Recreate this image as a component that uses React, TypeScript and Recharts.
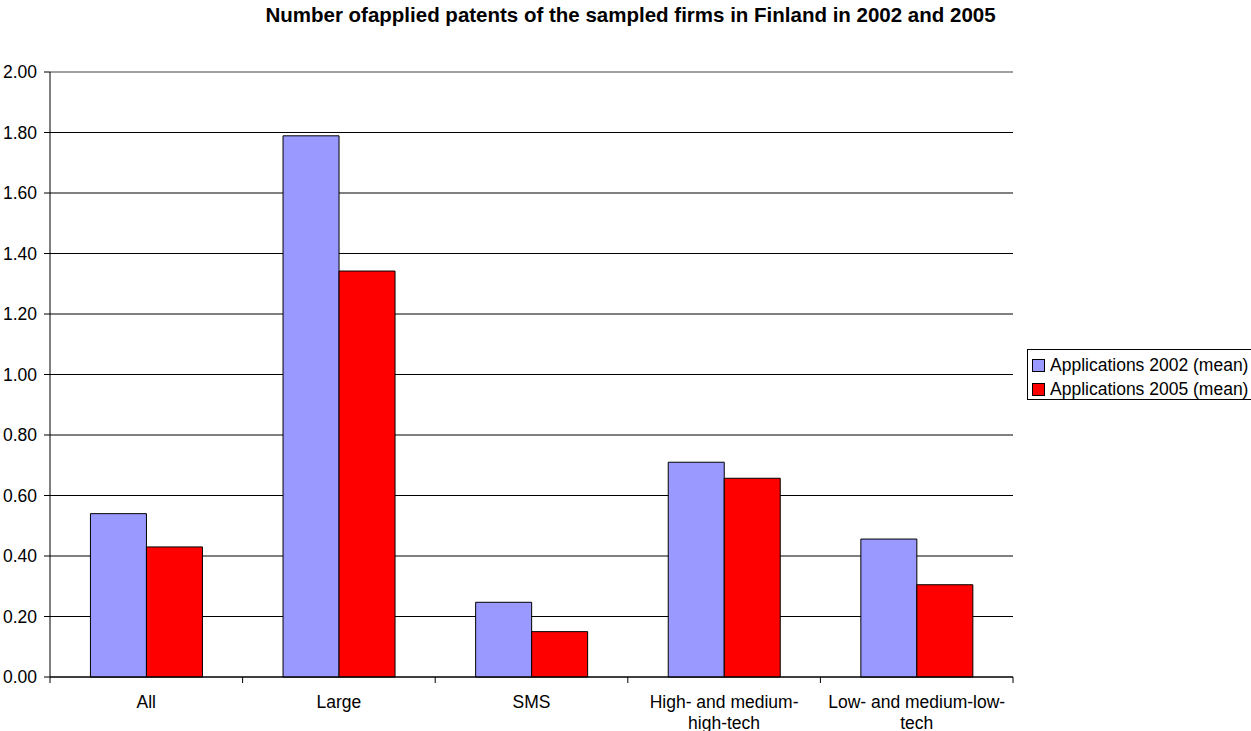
import React from 'react';
import { BarChart, Bar, XAxis, YAxis, CartesianGrid, ReferenceLine } from 'recharts';

const categories = ['All', 'Large', 'SMS', 'High- and medium-high-tech', 'Low- and medium-low-tech'];
const categoryLines = [['All'], ['Large'], ['SMS'], ['High- and medium-', 'high-tech'], ['Low- and medium-low-', 'tech']];
const applications2002 = [0.54, 1.789, 0.247, 0.71, 0.456];
const applications2005 = [0.43, 1.342, 0.15, 0.657, 0.305];
const yTicks = [0, 0.2, 0.4, 0.6, 0.8, 1.0, 1.2, 1.4, 1.6, 1.8, 2.0];
const gridValues = [0, 0.2, 0.4, 0.6, 0.8, 1.0, 1.2, 1.4, 1.6, 1.8];

const series = [
  { key: 'a2002', name: 'Applications 2002 (mean)', color: '#9999FF' },
  { key: 'a2005', name: 'Applications 2005 (mean)', color: '#FF0000' },
];

const FONT = '"Liberation Sans", Arial, sans-serif';

const chartData = categories.map((name, i) => ({
  name,
  a2002: applications2002[i],
  a2005: applications2005[i],
}));

const BAND = (1013 - 50) / categories.length;

const CategoryTick = (props: any) => {
  const { x, y, index } = props;
  const lines = categoryLines[index] || [];
  return (
    <g>
      {index === 0 && <line x1={x - BAND / 2} y1={y} x2={x - BAND / 2} y2={y + 6} stroke="#000" />}
      <line x1={x + BAND / 2} y1={y} x2={x + BAND / 2} y2={y + 6} stroke="#000" />
      {lines.map((line, i) => (
        <text
          key={i}
          x={x}
          y={y + 25 + i * 21}
          textAnchor="middle"
          dominantBaseline="central"
          fontSize={17.5}
          fontFamily={FONT}
          fill="#000"
        >
          {line}
        </text>
      ))}
    </g>
  );
};

export default function App() {
  return (
    <div style={{ position: 'absolute', left: 0, top: 0, width: 1251, height: 731, fontFamily: FONT, background: '#fff', overflow: 'hidden' }}>
      <div
        style={{
          position: 'absolute',
          left: 0,
          top: 3,
          width: 1261,
          textAlign: 'center',
          fontWeight: 'bold',
          fontSize: 20.5,
          lineHeight: '24px',
        }}
      >
        Number ofapplied patents of the sampled firms in Finland in 2002 and 2005
      </div>
      <BarChart
        width={1251}
        height={731}
        data={chartData}
        margin={{ top: 72, right: 238, bottom: 0, left: 0 }}
        barCategoryGap="21%"
        barGap={0}
      >
        <CartesianGrid vertical={false} stroke="#000" horizontalValues={gridValues} />
        <XAxis
          dataKey="name"
          height={54}
          tickLine={false}
          tickSize={0}
          tickMargin={0}
          axisLine={{ stroke: '#000' }}
          tick={<CategoryTick />}
          interval={0}
        />
        <YAxis
          width={50}
          domain={[0, 2]}
          ticks={yTicks}
          tickFormatter={(v: number) => v.toFixed(2)}
          axisLine={{ stroke: '#000' }}
          tickLine={{ stroke: '#000' }}
          tickSize={6}
          tickMargin={7}
          tick={{ fill: '#000', fontSize: 17.5, fontFamily: FONT }}
          interval={0}
        />
        <YAxis
          yAxisId="right"
          orientation="right"
          width={0}
          tick={false}
          tickLine={false}
          axisLine={{ stroke: '#808080', strokeWidth: 1.5 }}
        />
        <ReferenceLine y={2} stroke="#808080" strokeWidth={1.5} />
        {series.map((s) => (
          <Bar key={s.key} dataKey={s.key} name={s.name} fill={s.color} stroke="#000" strokeWidth={1} isAnimationActive={false} />
        ))}
      </BarChart>
      <div
        style={{
          position: 'absolute',
          left: 1027,
          top: 349,
          width: 240,
          height: 51,
          border: '1px solid #000',
          boxSizing: 'border-box',
        }}
      >
        {series.map((s, i) => (
          <div
            key={s.key}
            style={{
              position: 'absolute',
              left: 4,
              top: 4 + i * 24,
              height: 22,
              display: 'flex',
              alignItems: 'center',
              whiteSpace: 'nowrap',
              fontSize: 17.5,
            }}
          >
            <span
              style={{
                display: 'inline-block',
                width: 11,
                height: 11,
                background: s.color,
                border: '1px solid #000',
                marginRight: 5,
              }}
            />
            {s.name}
          </div>
        ))}
      </div>
    </div>
  );
}
